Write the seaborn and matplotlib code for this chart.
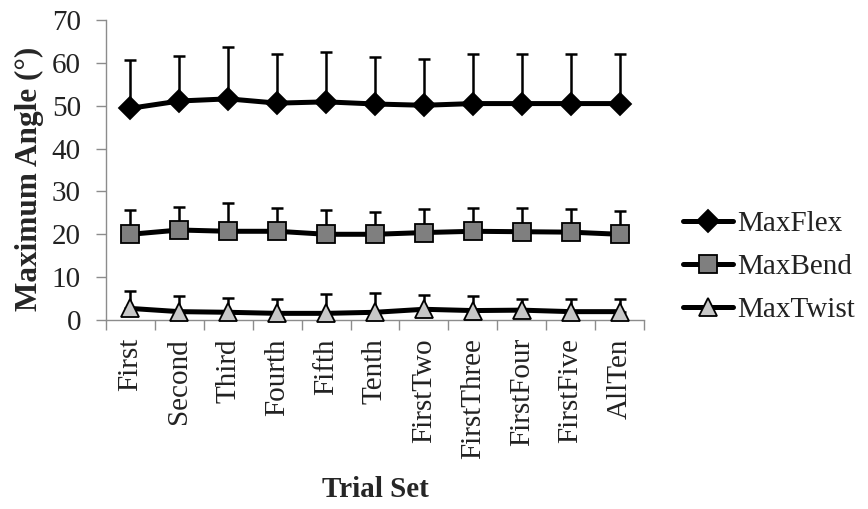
import numpy as np
import pandas as pd
import matplotlib
matplotlib.use("Agg")
import matplotlib.pyplot as plt
import seaborn as sns
from matplotlib.ticker import FixedLocator

categories = ["First", "Second", "Third", "Fourth", "Fifth", "Tenth",
              "FirstTwo", "FirstThree", "FirstFour", "FirstFive", "AllTen"]
maxflex = [49.4, 51.1, 51.6, 50.6, 50.9, 50.4, 50.1, 50.5, 50.5, 50.5, 50.5]
maxflex_err = [11.3, 10.5, 12.0, 11.4, 11.6, 10.9, 10.9, 11.5, 11.5, 11.5, 11.5]
maxbend = [20.0, 21.0, 20.7, 20.7, 20.0, 20.0, 20.4, 20.7, 20.6, 20.5, 20.0]
maxbend_err = [5.7, 5.4, 6.5, 5.4, 5.7, 5.1, 5.5, 5.4, 5.5, 5.4, 5.4]
maxtwist = [2.7, 1.95, 1.8, 1.55, 1.55, 1.8, 2.5, 2.2, 2.3, 1.95, 1.95]
maxtwist_err = [4.1, 3.65, 3.4, 3.35, 4.55, 4.6, 3.3, 3.4, 2.6, 2.95, 2.95]
series_names = ["MaxFlex", "MaxBend", "MaxTwist"]
yticks = [0, 10, 20, 30, 40, 50, 60, 70]

sns.set_theme(style="white")
plt.rcParams["font.family"] = ["Liberation Serif", "DejaVu Serif"]

fig = plt.figure(figsize=(8.68, 5.09), dpi=100)
ax = fig.add_axes([106 / 868, 1 - 320 / 509, 538 / 868, 300 / 509])

x = np.arange(len(categories))
df = pd.DataFrame({"x": x, "MaxFlex": maxflex, "MaxBend": maxbend, "MaxTwist": maxtwist})
errs = {"MaxFlex": maxflex_err, "MaxBend": maxbend_err, "MaxTwist": maxtwist_err}
styles = {
    "MaxFlex": dict(marker="D", markersize=11.5, markerfacecolor="black"),
    "MaxBend": dict(marker="s", markersize=13, markerfacecolor="#7f7f7f"),
    "MaxTwist": dict(marker="^", markersize=13.5, markerfacecolor="#c8c8c8"),
}

for name in series_names:
    vals = df[name].to_numpy()
    ax.errorbar(df["x"], vals, yerr=[np.zeros_like(vals), np.array(errs[name])],
                fmt="none", ecolor="black", elinewidth=1.8, capsize=4.5,
                capthick=1.8, zorder=2, clip_on=False)
    sns.lineplot(data=df, x="x", y=name, ax=ax, color="black", linewidth=3.6,
                 markeredgecolor="black", markeredgewidth=1.3, label=name,
                 zorder=3, clip_on=False, **styles[name])

ax.set_xlim(-0.5, len(categories) - 0.5)
ax.set_ylim(0, 70)
ax.set_yticks(yticks)
ax.set_yticklabels([str(v) for v in yticks])
ax.set_xticks(x)
ax.set_xticklabels(categories, rotation=90)
ax.xaxis.set_minor_locator(FixedLocator(np.arange(-0.5, len(categories), 1.0)))

for side in ["top", "right"]:
    ax.spines[side].set_visible(False)
for side in ["left", "bottom"]:
    ax.spines[side].set_color("#8c8c8c")
    ax.spines[side].set_linewidth(1.0)

ax.tick_params(axis="y", which="major", direction="out", length=7, width=1.0,
               color="#8c8c8c", left=True, labelsize=21, pad=11, labelcolor="#222222")
ax.tick_params(axis="x", which="major", length=0, labelsize=21, pad=13,
               labelcolor="#222222")
ax.tick_params(axis="x", which="minor", direction="out", length=7.5, width=1.0,
               color="#8c8c8c", bottom=True)

ax.set_xlabel("Trial Set", fontsize=21, fontweight="bold", va="top")
ax.xaxis.set_label_coords(0.5, -0.52)
ax.set_ylabel("Maximum Angle (°)", fontsize=22.5, fontweight="bold")
ax.yaxis.set_label_coords(-0.115, 0.47)

leg = ax.legend(loc="center left", bbox_to_anchor=(1.072, 0.177), frameon=False,
                fontsize=21, handlelength=1.71, handletextpad=0.17,
                labelspacing=0.58, borderpad=0, borderaxespad=0)
for t in leg.get_texts():
    t.set_color("#222222")

fig.savefig("out.png", dpi=100)
